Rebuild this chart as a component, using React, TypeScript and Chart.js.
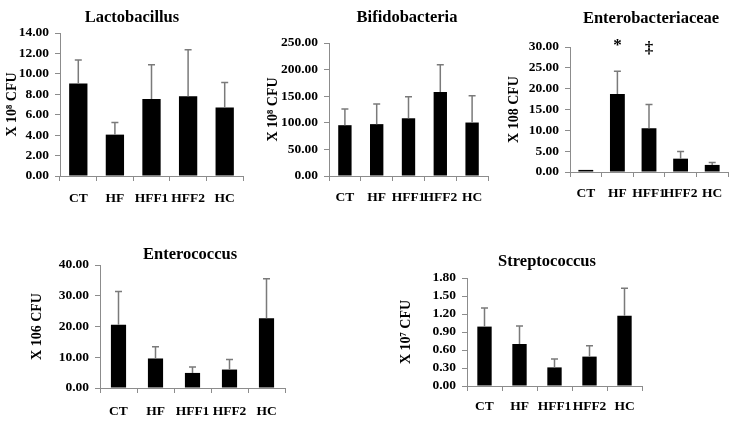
import React, { useEffect, useRef } from "react";
import { Chart, registerables } from "chart.js";
Chart.register(...registerables);

const categories = ["CT", "HF", "HFF1", "HFF2", "HC"];

const lactoMeans = [9.05, 4.05, 7.55, 7.8, 6.7];
const lactoSD = [2.3, 1.2, 3.35, 4.55, 2.45];

const bifidoMeans = [95.5, 97.5, 108.5, 158, 100.5];
const bifidoSD = [30.5, 38, 40.5, 51, 50.5];

const enterobactMeans = [0.5, 18.7, 10.5, 3.2, 1.7];
const enterobactSD = [0, 5.5, 5.7, 1.7, 0.6];
const enterobactMarkers = ["", "*", "‡", "", ""];

const enterococcusMeans = [20.6, 9.6, 4.9, 6.0, 22.7];
const enterococcusSD = [10.8, 3.8, 1.9, 3.3, 12.8];

const streptoMeans = [0.99, 0.7, 0.31, 0.49, 1.17];
const streptoSD = [0.31, 0.3, 0.14, 0.18, 0.46];

const FONT = "'Liberation Serif', 'Times New Roman', serif";
const AXIS = "#8c8c8c";

const errorBarPlugin = {
  id: "errorBars",
  afterDatasetsDraw(chart: any, _args: any, opts: any) {
    const sd: number[] = opts.sd || [];
    const markers: string[] = opts.markers || [];
    const meta = chart.getDatasetMeta(0);
    const ys = chart.scales.y;
    const ctx = chart.ctx;
    ctx.save();
    ctx.strokeStyle = "#7a7a7a";
    ctx.lineWidth = 1.5;
    meta.data.forEach((bar: any, i: number) => {
      const v = chart.data.datasets[0].data[i] as number;
      if (sd[i] > 0) {
        const top = ys.getPixelForValue(v + sd[i]);
        ctx.beginPath();
        ctx.moveTo(bar.x, bar.y);
        ctx.lineTo(bar.x, top);
        ctx.moveTo(bar.x - 3.5, top);
        ctx.lineTo(bar.x + 3.5, top);
        ctx.stroke();
      }
      if (markers[i]) {
        ctx.fillStyle = "#000";
        ctx.font = `bold 17px ${FONT}`;
        ctx.textAlign = "center";
        ctx.textBaseline = "middle";
        const base = ys.getPixelForValue(ys.max);
        ctx.fillText(markers[i], bar.x, base + (markers[i] === "*" ? -1 : 2));
      }
    });
    ctx.restore();
  },
};

const panelTitlePlugin = {
  id: "panelTitle",
  afterDraw(chart: any, _args: any, opts: any) {
    if (!opts.text) return;
    const ctx = chart.ctx;
    const ca = chart.chartArea;
    ctx.save();
    ctx.fillStyle = "#000";
    ctx.font = `bold 16.5px ${FONT}`;
    ctx.textAlign = "center";
    ctx.textBaseline = "middle";
    ctx.fillText(opts.text, (ca.left + ca.right) / 2 + opts.dx, opts.y);
    ctx.restore();
  },
};

type PanelProps = {
  title: string;
  yTitle: string;
  means: number[];
  sd: number[];
  markers?: string[];
  max: number;
  step: number;
  left: number;
  top: number;
  width: number;
  height: number;
  yWidth: number;
  padTop: number;
  titleY: number;
  titleDx: number;
  yTitlePad: number;
  xPad: number;
  barPct: number;
};

function Panel(p: PanelProps) {
  const ref = useRef<HTMLCanvasElement>(null);
  useEffect(() => {
    if (!ref.current) return;
    const chart = new Chart(ref.current, {
      type: "bar",
      data: {
        labels: categories,
        datasets: [
          {
            data: p.means,
            backgroundColor: "#000",
            borderColor: "#000",
            borderWidth: 0,
            barPercentage: p.barPct,
            categoryPercentage: 1,
          },
        ],
      },
      plugins: [errorBarPlugin, panelTitlePlugin],
      options: {
        responsive: false,
        animation: false,
        layout: { padding: { left: 0, right: 5, top: p.padTop, bottom: 0 } },
        plugins: {
          legend: { display: false },
          tooltip: { enabled: false },
          title: { display: false },
          errorBars: { sd: p.sd, markers: p.markers || [] },
          panelTitle: { text: p.title, dx: p.titleDx, y: p.titleY },
        } as any,
        scales: {
          x: {
            type: "category",
            offset: true,
            grid: {
              display: true,
              drawOnChartArea: false,
              drawTicks: true,
              tickLength: 5,
              color: AXIS,
              offset: true,
            },
            border: { display: true, color: AXIS, width: 1 },
            ticks: {
              color: "#000",
              font: { family: FONT, size: 13.5, weight: "bold" },
              padding: p.xPad,
              maxRotation: 0,
              autoSkip: false,
            },
            afterFit: (s: any) => {
              s.height = 30;
            },
          },
          y: {
            min: 0,
            max: p.max,
            grid: {
              display: true,
              drawOnChartArea: false,
              drawTicks: true,
              tickLength: 5,
              color: AXIS,
            },
            border: { display: true, color: AXIS, width: 1 },
            ticks: {
              stepSize: p.step,
              autoSkip: false,
              color: "#000",
              font: { family: FONT, size: 13.5, weight: "bold" },
              padding: 6,
              callback: (v: any) => Number(v).toFixed(2),
            },
            title: {
              display: true,
              text: p.yTitle,
              color: "#000",
              font: { family: FONT, size: 14, weight: "bold", lineHeight: 1.2 },
              padding: { top: p.yTitlePad, bottom: 0 },
            },
            afterFit: (s: any) => {
              s.width = p.yWidth;
            },
          },
        },
      } as any,
    });
    return () => chart.destroy();
  }, []);
  return (
    <canvas
      ref={ref}
      width={p.width}
      height={p.height}
      style={{ position: "absolute", left: p.left, top: p.top, width: p.width, height: p.height }}
    />
  );
}

export default function App() {
  return (
    <div
      style={{
        position: "fixed",
        left: 0,
        top: 0,
        width: 739,
        height: 421,
        overflow: "hidden",
        background: "#fff",
      }}
    >
      <Panel
        title="Lactobacillus"
        yTitle="X 10⁸ CFU"
        means={lactoMeans}
        sd={lactoSD}
        max={14}
        step={2}
        left={2}
        top={0}
        width={246}
        height={206}
        yWidth={58}
        padTop={33}
        titleY={18}
        titleDx={-19.5}
        yTitlePad={2}
        xPad={9}
        barPct={0.5}
      />
      <Panel
        title="Bifidobacteria"
        yTitle="X 10⁸ CFU"
        means={bifidoMeans}
        sd={bifidoSD}
        max={250}
        step={50}
        left={265}
        top={0}
        width={228}
        height={206}
        yWidth={64}
        padTop={43}
        titleY={18}
        titleDx={-1.5}
        yTitlePad={0}
        xPad={8}
        barPct={0.42}
      />
      <Panel
        title="Enterobacteriaceae"
        yTitle="X 108 CFU"
        means={enterobactMeans}
        sd={enterobactSD}
        markers={enterobactMarkers}
        max={30}
        step={5}
        left={505}
        top={0}
        width={228}
        height={202}
        yWidth={65}
        padTop={47}
        titleY={19}
        titleDx={2}
        yTitlePad={1}
        xPad={8}
        barPct={0.47}
      />
      <Panel
        title="Enterococcus"
        yTitle="X 106 CFU"
        means={enterococcusMeans}
        sd={enterococcusSD}
        max={40}
        step={10}
        left={25}
        top={225}
        width={265}
        height={193}
        yWidth={75}
        padTop={40}
        titleY={30}
        titleDx={-2.5}
        yTitlePad={4}
        xPad={10}
        barPct={0.41}
      />
      <Panel
        title="Streptococcus"
        yTitle="X 10⁷ CFU"
        means={streptoMeans}
        sd={streptoSD}
        max={1.8}
        step={0.3}
        left={395}
        top={225}
        width={252}
        height={191}
        yWidth={72}
        padTop={53}
        titleY={37}
        titleDx={-7.5}
        yTitlePad={3}
        xPad={7}
        barPct={0.41}
      />
    </div>
  );
}
